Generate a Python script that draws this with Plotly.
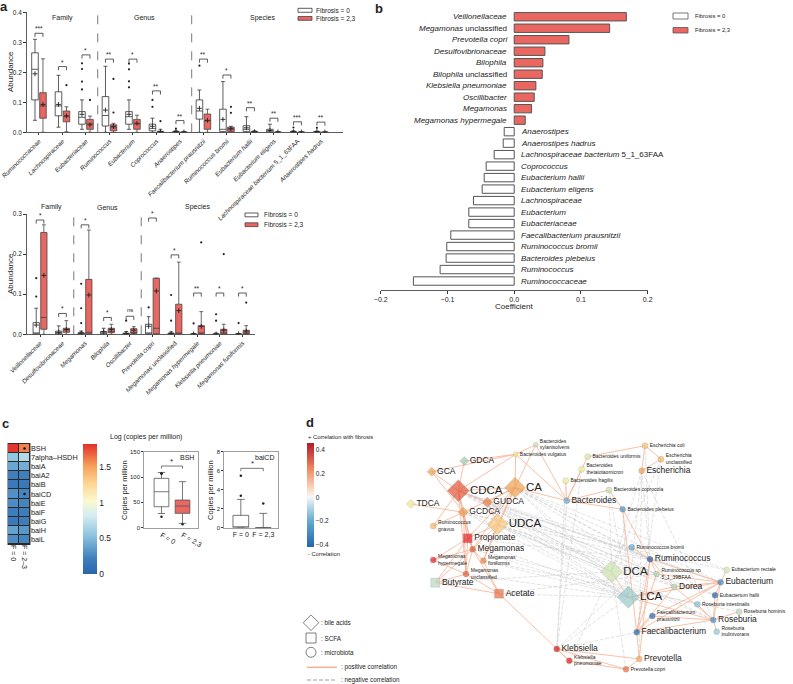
import plotly.graph_objects as go

W, H = 793, 684
FONT = "Arial, Liberation Sans, sans-serif"
INK = "#333333"
RED = "#ea6660"
DODGE = 0.17
BOXW = 0.28


def fx(p):
    return p / W


def fy(p):
    return 1 - p / H


def ital(name):
    parts = []
    for w in name.split(" "):
        if w == "unclassified" or any(ch.isdigit() for ch in w):
            parts.append(w)
        else:
            parts.append("<i>" + w + "</i>")
    return " ".join(parts)


# ================= Panel a (top) =================
a1_taxa = ["Ruminococcaceae", "Lachnospiraceae", "Eubacteriaceae", "Ruminococcus",
           "Eubacterium", "Coprococcus", "Anaerostipes", "Faecalibacterium prausnitzii",
           "Ruminococcus bromii", "Eubacterium hallii", "Eubacterium eligens",
           "Lachnospiraceae bacterium 5_1_63FAA", "Anaerostipes hadrus"]
a1_f0_low = [0.040, 0.017, 0.010, 0.000, 0.010, 0.000, 0.000, 0.000, 0.000, 0.000, 0.000, 0.000, 0.000]
a1_f0_q1 = [0.108, 0.055, 0.027, 0.021, 0.027, 0.005, 0.000, 0.044, 0.002, 0.002, 0.000, 0.000, 0.000]
a1_f0_med = [0.210, 0.088, 0.050, 0.056, 0.052, 0.013, 0.001, 0.071, 0.010, 0.010, 0.004, 0.001, 0.001]
a1_f0_q3 = [0.265, 0.135, 0.069, 0.119, 0.069, 0.027, 0.003, 0.108, 0.077, 0.022, 0.010, 0.002, 0.002]
a1_f0_high = [0.310, 0.190, 0.108, 0.220, 0.108, 0.047, 0.005, 0.141, 0.169, 0.052, 0.027, 0.005, 0.004]
a1_f0_mean = [0.195, 0.093, 0.060, 0.074, 0.060, 0.020, 0.002, 0.080, 0.043, 0.015, 0.006, 0.002, 0.002]
a1_f0_out = [[], [], [0.230, 0.211, 0.169, 0.143], [], [0.229, 0.210, 0.170, 0.150],
             [0.108, 0.085], [0.012], [0.222], [], [], [], [0.016], [0.015]]
a1_f23_low = [0.000, 0.002, 0.000, 0.000, 0.000, 0.000, 0.000, 0.000, 0.000, 0.000, 0.000, 0.000, 0.000]
a1_f23_q1 = [0.047, 0.035, 0.010, 0.005, 0.010, 0.000, 0.000, 0.010, 0.002, 0.000, 0.000, 0.000, 0.000]
a1_f23_med = [0.088, 0.052, 0.028, 0.015, 0.028, 0.001, 0.000, 0.038, 0.010, 0.001, 0.000, 0.000, 0.000]
a1_f23_q3 = [0.132, 0.071, 0.043, 0.025, 0.043, 0.003, 0.001, 0.061, 0.017, 0.003, 0.001, 0.001, 0.001]
a1_f23_high = [0.245, 0.085, 0.054, 0.030, 0.057, 0.010, 0.002, 0.077, 0.020, 0.005, 0.002, 0.001, 0.001]
a1_f23_mean = [0.093, 0.055, 0.025, 0.020, 0.030, 0.003, 0.001, 0.040, 0.012, 0.002, 0.001, 0.001, 0.001]
a1_f23_out = [[], [0.157], [0.108], [0.178, 0.066], [], [0.037], [], [], [0.085, 0.065], [], [], [], []]
a1_sig = ["***", "*", "*", "**", "*", "**", "**", "**", "*", "**", "**", "***", "**"]
a1_sig_y = [0.330, 0.219, 0.258, 0.244, 0.244, 0.138, 0.039, 0.244, 0.191, 0.082, 0.047, 0.035, 0.034]
a1_levels = [("Family", 0, 2), ("Genus", 3, 6), ("Species", 7, 12)]

# ================= Panel a (bottom) =================
a2_taxa = ["Veillonellaceae", "Desulfovibrionaceae", "Megamonas", "Bilophila", "Oscillibacter",
           "Prevotella copri", "Megamonas unclassified", "Megamonas hypermegale",
           "Klebsiella pneumoniae", "Megamonas funiformis"]
a2_f0_low = [0.000, 0.000, 0.000, 0.000, 0.000, 0.000, 0.000, 0.000, 0.000, 0.000]
a2_f0_q1 = [0.001, 0.001, 0.000, 0.001, 0.000, 0.001, 0.000, 0.000, 0.000, 0.000]
a2_f0_med = [0.0025, 0.003, 0.001, 0.003, 0.001, 0.003, 0.001, 0.000, 0.000, 0.000]
a2_f0_q3 = [0.029, 0.008, 0.004, 0.007, 0.003, 0.025, 0.003, 0.001, 0.001, 0.001]
a2_f0_high = [0.065, 0.021, 0.008, 0.015, 0.007, 0.044, 0.006, 0.002, 0.003, 0.002]
a2_f0_mean = [0.023, 0.005, 0.003, 0.006, 0.002, 0.020, 0.002, 0.001, 0.001, 0.001]
a2_f0_out = [[0.140, 0.094], [], [0.126, 0.065, 0.028], [], [0.034], [0.067], [0.098, 0.034],
             [0.027], [0.050, 0.034], [0.028]]
a2_f23_low = [0.000, 0.000, 0.000, 0.000, 0.000, 0.000, 0.000, 0.000, 0.000, 0.000]
a2_f23_q1 = [0.0125, 0.005, 0.001, 0.004, 0.002, 0.001, 0.001, 0.001, 0.001, 0.001]
a2_f23_med = [0.042, 0.011, 0.005, 0.007, 0.004, 0.015, 0.003, 0.002, 0.002, 0.002]
a2_f23_q3 = [0.254, 0.015, 0.137, 0.015, 0.014, 0.140, 0.075, 0.0215, 0.0125, 0.010]
a2_f23_high = [0.273, 0.034, 0.260, 0.025, 0.019, 0.140, 0.180, 0.0565, 0.025, 0.0215]
a2_f23_mean = [0.147, 0.012, 0.098, 0.012, 0.010, 0.108, 0.059, 0.020, 0.010, 0.008]
a2_f23_out = [[], [], [], [], [], [], [], [0.229], [0.200], [0.079]]
a2_sig = ["*", "*", "*", "*", "ns", "*", "*", "**", "*", "*"]
a2_sig_y = [0.285, 0.052, 0.273, 0.042, 0.045, 0.290, 0.198, 0.103, 0.103, 0.103]
a2_levels = [("Family", 0, 1), ("Genus", 2, 4), ("Species", 5, 9)]

# ================= Panel b =================
b_taxa = ["Veillonellaceae", "Megamonas unclassified", "Prevotella copri", "Desulfovibrionaceae",
          "Bilophila", "Bilophila unclassified", "Klebsiella pneumoniae", "Oscillibacter",
          "Megamonas", "Megamonas hypermegale", "Anaerostipes", "Anaerostipes hadrus",
          "Lachnospiraceae bacterium 5_1_63FAA", "Coprococcus", "Eubacterium hallii",
          "Eubacterium eligens", "Lachnospiraceae", "Eubacterium", "Eubacteriaceae",
          "Faecalibacterium prausnitzii", "Ruminococcus bromii", "Bacteroides plebeius",
          "Ruminococcus", "Ruminococcaceae"]
b_coef = [0.168, 0.143, 0.082, 0.046, 0.043, 0.042, 0.0325, 0.030, 0.026, 0.0165,
          -0.015, -0.0165, -0.030, -0.042, -0.045, -0.048, -0.061, -0.068, -0.068,
          -0.095, -0.101, -0.102, -0.111, -0.151]

# ================= Panel c =================
c_genes = ["BSH", "7alpha\u2013HSDH", "baiA", "baiA2", "baiB", "baiCD", "baiE", "baiF", "baiG", "baiH", "baiL"]
c_log_f0 = [1.80, 0.55, 0.40, 0.22, 0.18, 0.30, 0.28, 0.20, 0.18, 0.38, 0.28]
c_log_f23 = [1.60, 0.68, 0.44, 0.22, 0.18, 0.24, 0.24, 0.20, 0.20, 0.33, 0.24]
c_marked = ["BSH", "baiCD"]
c_groups = ["F = 0", "F = 2,3"]
bsh_low, bsh_q1, bsh_med, bsh_q3, bsh_high = [28, 8.6], [41.4, 28.3], [71, 42.8], [97.4, 54.6], [109, 90.8]
bsh_out = [[107, 107, 21.7], [6.6]]
bsh_sig_y = 121.7
baicd_low, baicd_q1, baicd_med, baicd_q3, baicd_high = [0, 0], [0, 0], [0, 0], [1.3, 0], [2.98, 1.51]
baicd_out = [[5.47, 3.37], [2.56]]
baicd_sig_y = 6.25

# ================= Panel d (network) =================
nodes = ["GDCA", "GCA", "CDCA", "CA", "TDCA", "GUDCA", "GCDCA", "UDCA", "Rgna", "Prop", "Mega",
         "Mhyp", "Mfun", "Munc", "Buty", "Acet", "Bxyl", "Bvul", "Ecoli", "Buni", "Eunc", "Bthe",
         "Esch", "Bfra", "Bcop", "Bact", "Bple", "Rbro", "Rumi", "DCA", "Rsp", "Erec", "Eubac",
         "Dorea", "LCA", "Ehal", "Rint", "Rhom", "Fpra", "Rose", "Rinu", "Faec", "Kleb", "Kpne",
         "Prev", "Pcop"]
node_label = ["GDCA", "GCA", "CDCA", "CA", "TDCA", "GUDCA", "GCDCA", "UDCA",
              "Ruminococcus<br>gnavus", "Propionate", "Megamonas", "Megamonas<br>hypermegale",
              "Megamonas<br>funiformis", "Megamonas<br>unclassified", "Butyrate", "Acetate",
              "Bacteroides<br>xylanisolvens", "Bacteroides vulgatus", "Escherichia coli",
              "Bacteroides uniformis", "Escherichia<br>unclassified", "Bacteroides<br>thetaiotaomicron",
              "Escherichia", "Bacteroides fragilis", "Bacteroides coprocola", "Bacteroides",
              "Bacteroides plebeius", "Ruminococcus bromii", "Ruminococcus", "DCA",
              "Ruminococcus sp<br>5_1_39BFAA", "Eubacterium rectale", "Eubacterium", "Dorea", "LCA",
              "Eubacterium hallii", "Roseburia intestinalis", "Roseburia hominis",
              "Faecalibacterium<br>prausnitzii", "Roseburia", "Roseburia<br>inulinivorans",
              "Faecalibacterium", "Klebsiella", "Klebsiella<br>pneumoniae", "Prevotella",
              "Prevotella copri"]
node_x = [464.3, 431.7, 458.3, 515.0, 411.0, 487.3, 463.3, 497.7, 433.3, 467.7, 472.7,
          433.3, 483.3, 466.0, 435.3, 499.0, 535.7, 515.7, 645.0, 587.7, 661.0, 581.7,
          641.7, 565.7, 609.0, 566.7, 622.7, 631.7, 650.0, 611.7, 656.7, 726.7, 720.7,
          674.3, 628.3, 715.0, 697.3, 739.0, 652.3, 713.3, 716.7, 636.7, 556.7, 569.3,
          639.3, 626.0]
node_y = [461.0, 471.7, 490.7, 487.7, 504.0, 502.3, 512.3, 524.3, 526.0, 538.3, 549.3,
          560.0, 560.7, 574.0, 582.7, 593.7, 444.7, 454.3, 445.7, 456.7, 459.3, 469.3,
          470.7, 480.7, 490.0, 500.7, 509.3, 547.3, 559.3, 571.7, 574.0, 570.0, 582.3,
          586.7, 597.3, 595.3, 604.3, 611.7, 616.0, 620.0, 631.7, 632.3, 649.0, 660.7,
          659.0, 669.3]
node_kind = ["bile", "bile", "bile", "bile", "bile", "bile", "bile", "bile", "mic", "scfa", "mic",
             "mic", "mic", "mic", "scfa", "scfa", "mic", "mic", "mic", "mic", "mic", "mic",
             "mic", "mic", "mic", "mic", "mic", "mic", "mic", "bile", "mic", "mic", "mic",
             "mic", "bile", "mic", "mic", "mic", "mic", "mic", "mic", "mic", "mic", "mic",
             "mic", "mic"]
node_size = [7, 7, 17, 16, 7, 8, 8, 16, 6, 9, 6, 6, 6, 6, 9, 9, 5, 5, 6, 6, 6, 6,
             6, 6, 6, 6, 6, 6, 6, 17, 6, 6, 6, 6, 17, 6, 6, 6, 6, 6, 6, 6, 6, 6, 6, 6]
node_color = ["#9ccbb0", "#f0a04e", "#e2543a", "#f0a052", "#f4e48c", "#ec7e4a", "#f09a55", "#f8c77c",
              "#f5b264", "#e0262c", "#e6573c", "#de1f2a", "#ef8548", "#e55d3c", "#b9d9c2", "#ec6c46",
              "#c3dfb4", "#f5e78a", "#f8bf6e", "#d9e9a6", "#f6b660", "#f1ea94", "#f2a14f", "#f2eb98",
              "#c7e0ae", "#64acd8", "#4b92c8", "#5ea6d6", "#1f5fa8", "#cde3b0", "#a9d1b3", "#d1e6b6",
              "#3b86c2", "#a9d6b7", "#97c9c9", "#2064ab", "#7bc2e0", "#b2d9c1", "#2a69b0", "#4b8dc6",
              "#8fc6d5", "#2267ad", "#d7191c", "#d7191c", "#f5a860", "#ec6a42"]
node_font = [8.5, 8.5, 11.5, 11.5, 8.5, 8.5, 8.5, 11.5, 5, 8.5, 8.5, 5, 5, 5, 8.5, 8.5, 5, 5, 5, 5,
             5, 5, 8.5, 5, 5, 8.5, 5, 5, 8.5, 11.5, 5, 5, 8.5, 8.5, 11.5, 5, 5, 5, 5, 8.5, 5, 8.5,
             8.5, 5, 8.5, 5]
pos_edges = [("CDCA", "GCA"), ("CDCA", "GCDCA"), ("CDCA", "GUDCA"), ("CDCA", "CA"), ("CDCA", "Prop"),
             ("CDCA", "Mega"), ("CDCA", "Rgna"), ("CDCA", "Bvul"), ("CDCA", "Munc"), ("CDCA", "GDCA"),
             ("CA", "GUDCA"), ("CA", "GCDCA"), ("CA", "UDCA"), ("CA", "Bvul"), ("CA", "Mega"),
             ("CA", "Mfun"), ("CA", "Bxyl"), ("CA", "Bact"), ("CA", "Prop"), ("GCA", "Bvul"),
             ("GCA", "GCDCA"), ("GCDCA", "Rgna"), ("GCDCA", "Prop"), ("GCDCA", "Mega"), ("GCDCA", "TDCA"),
             ("GCDCA", "Munc"), ("UDCA", "Mega"), ("UDCA", "Mfun"), ("UDCA", "Prop"), ("UDCA", "GUDCA"),
             ("Prop", "Mega"), ("Prop", "Mhyp"), ("Prop", "Munc"), ("Prop", "Buty"), ("Mega", "Munc"),
             ("Mega", "Mfun"), ("Mega", "Mhyp"), ("Mega", "Acet"), ("Mega", "Buty"), ("Mhyp", "Munc"),
             ("Buty", "Acet"), ("Buty", "Munc"), ("Acet", "Mfun"), ("Acet", "Munc"), ("Acet", "Kpne"),
             ("Kleb", "Kpne"), ("Kleb", "Prev"), ("Kpne", "Pcop"), ("Kleb", "Pcop"), ("Prev", "Pcop"),
             ("Faec", "Prev"), ("Rumi", "Prev"), ("Faec", "Fpra"), ("Faec", "Rumi"), ("Faec", "Rose"),
             ("Faec", "Eubac"), ("Faec", "Dorea"), ("Faec", "Rsp"), ("Faec", "Bple"), ("Fpra", "Rose"),
             ("Fpra", "Eubac"), ("Rumi", "Rbro"), ("Rumi", "Bple"), ("Rumi", "Eubac"), ("Rumi", "Rsp"),
             ("Rumi", "Dorea"), ("Eubac", "Ehal"), ("Eubac", "Erec"), ("Eubac", "Dorea"), ("Eubac", "Rose"),
             ("Eubac", "Rsp"), ("Eubac", "LCA"), ("Rose", "Rint"), ("Rose", "Rhom"), ("Rose", "Rinu"),
             ("Rose", "Ehal"), ("Rose", "Dorea"), ("Rose", "LCA"), ("DCA", "LCA"), ("LCA", "Dorea"),
             ("Bact", "Bfra"), ("Bact", "Bthe"), ("Bact", "Buni"), ("Bact", "Bple"), ("Bact", "Bcop"),
             ("Bact", "Bxyl"), ("Bact", "Bvul"), ("Esch", "Ecoli"), ("Esch", "Eunc"), ("Ecoli", "Eunc"),
             ("Ecoli", "Buni"), ("Bcop", "Bple"), ("Bvul", "Bxyl"), ("GDCA", "Bvul")]
neg_edges = [("CDCA", "DCA"), ("CDCA", "LCA"), ("CDCA", "Rumi"), ("CDCA", "Eubac"), ("CDCA", "Dorea"),
             ("CDCA", "Rose"), ("CDCA", "Rsp"), ("CA", "DCA"), ("CA", "LCA"), ("CA", "Rumi"),
             ("CA", "Eubac"), ("CA", "Erec"), ("CA", "Dorea"), ("CA", "Ehal"), ("GUDCA", "LCA"),
             ("GUDCA", "DCA"), ("GUDCA", "Eubac"), ("GUDCA", "Rsp"), ("GCDCA", "LCA"), ("GCDCA", "DCA"),
             ("GCDCA", "Rumi"), ("GCDCA", "Erec"), ("UDCA", "LCA"), ("UDCA", "DCA"), ("UDCA", "Dorea"),
             ("UDCA", "Rose"), ("UDCA", "Ehal"), ("Mega", "LCA"), ("Mega", "Rint"), ("Mfun", "LCA"),
             ("Mfun", "Rhom"), ("Prop", "LCA"), ("Prop", "Rumi"), ("Esch", "LCA"), ("Esch", "DCA"),
             ("Esch", "Rumi"), ("Ecoli", "Rumi"), ("Eunc", "DCA"), ("Esch", "Rose"), ("Eunc", "Faec"),
             ("Bcop", "LCA"), ("Bcop", "DCA"), ("Bact", "Kleb"), ("Bthe", "Kleb"), ("Bfra", "Kleb"),
             ("Kleb", "LCA"), ("Kleb", "Rumi"), ("Kpne", "DCA"), ("Kleb", "Faec"), ("Prev", "Esch"),
             ("Bple", "LCA"), ("Rbro", "CDCA"), ("Munc", "LCA"), ("Acet", "LCA"), ("Acet", "Rsp"),
             ("Buty", "DCA"), ("Pcop", "DCA")]

# ================= Build figure =================
fig = go.Figure()
shapes = []
annots = []


def txt(x, y, text, size=7, xref="paper", yref="paper", xanchor="center", yanchor="middle", **kw):
    d = dict(x=x, y=y, text=text, xref=xref, yref=yref, xanchor=xanchor, yanchor=yanchor,
             showarrow=False, font=dict(size=size, color="#222", family=FONT))
    d.update(kw)
    annots.append(d)


def box_panel(xa, ya, n, w, r, w_out, r_out, sig, sig_y, tick, levels, level_y):
    pos_w = [i - DODGE for i in range(n)]
    pos_r = [i + DODGE for i in range(n)]
    for pos, st, fill, lc in ((pos_w, w, "white", INK), (pos_r, r, RED, "#444")):
        fig.add_trace(go.Box(x=pos, lowerfence=st[0], q1=st[1], median=st[2], q3=st[3],
                             upperfence=st[4], fillcolor=fill, line=dict(color=lc, width=0.8),
                             width=BOXW, whiskerwidth=0.6, boxpoints=False, xaxis=xa, yaxis=ya,
                             hoverinfo="skip", showlegend=False))
        fig.add_trace(go.Scatter(x=pos, y=st[5], mode="markers", xaxis=xa, yaxis=ya,
                                 marker=dict(symbol="cross-thin", size=3.5, line=dict(width=0.9, color="#222")),
                                 hoverinfo="skip", showlegend=False))
    ox, oy = [], []
    for pos, outs in ((pos_w, w_out), (pos_r, r_out)):
        for i, lst in enumerate(outs):
            for v in lst:
                ox.append(pos[i])
                oy.append(v)
    fig.add_trace(go.Scatter(x=ox, y=oy, mode="markers", xaxis=xa, yaxis=ya,
                             marker=dict(size=2.2, color="#222"), hoverinfo="skip", showlegend=False))
    for i in range(n):
        x0, x1, h = i - DODGE, i + DODGE, sig_y[i]
        shapes.append(dict(type="path", xref=xa, yref=ya,
                           path=f"M {x0},{h - tick} L {x0},{h} L {x1},{h} L {x1},{h - tick}",
                           line=dict(color=INK, width=0.8)))
        txt(i, h, sig[i], size=6.5 if sig[i] != "ns" else 6, xref=xa, yref=ya, yanchor="bottom",
            yshift=-1 if sig[i] != "ns" else 1)
    for k, (name, lo, hi) in enumerate(levels):
        txt((lo + hi) / 2, level_y, name, size=7, xref=xa, yref=ya + " domain")
        if k > 0:
            shapes.append(dict(type="line", xref=xa, yref=ya + " domain", x0=lo - 0.5, x1=lo - 0.5,
                               y0=0, y1=1, line=dict(color="#555", width=0.8, dash="dash")))


box_panel("x", "y", len(a1_taxa),
          (a1_f0_low, a1_f0_q1, a1_f0_med, a1_f0_q3, a1_f0_high, a1_f0_mean),
          (a1_f23_low, a1_f23_q1, a1_f23_med, a1_f23_q3, a1_f23_high, a1_f23_mean),
          a1_f0_out, a1_f23_out, a1_sig, a1_sig_y, 0.012, a1_levels, 0.955)
box_panel("x2", "y2", len(a2_taxa),
          (a2_f0_low, a2_f0_q1, a2_f0_med, a2_f0_q3, a2_f0_high, a2_f0_mean),
          (a2_f23_low, a2_f23_q1, a2_f23_med, a2_f23_q3, a2_f23_high, a2_f23_mean),
          a2_f0_out, a2_f23_out, a2_sig, a2_sig_y, 0.009, a2_levels, 1.058)

# ---- panel b bars
fig.add_trace(go.Bar(x=b_coef, y=list(range(len(b_taxa))), orientation="h", xaxis="x3", yaxis="y3",
                     marker=dict(color=[RED if v > 0 else "white" for v in b_coef],
                                 line=dict(color="#555", width=1)),
                     hoverinfo="skip", showlegend=False))
for i, (name, v) in enumerate(zip(b_taxa, b_coef)):
    if v > 0:
        txt(0, i, ital(name), size=8, xref="x3", yref="y3", xanchor="right", xshift=-5)
    else:
        txt(0, i, ital(name), size=8, xref="x3", yref="y3", xanchor="left", xshift=5)

# ---- panel c heatmap
heat_scale = [[0.0, "#2b63ae"], [0.12, "#3f7fbd"], [0.3, "#8fc5df"], [0.45, "#d4edf2"],
              [0.56, "#fbf8d0"], [0.7, "#fdd491"], [0.83, "#f7a05a"], [1.0, "#e1302a"]]
fig.add_trace(go.Heatmap(z=[[a, b] for a, b in zip(c_log_f0, c_log_f23)], x=[0, 1],
                         y=list(range(len(c_genes))), xaxis="x4", yaxis="y4", zmin=0, zmax=1.82,
                         colorscale=heat_scale, xgap=1, ygap=1, hoverinfo="skip",
                         colorbar=dict(x=fx(83), xanchor="left", y=fy(444), yanchor="top",
                                       len=130, lenmode="pixels", thickness=14, thicknessmode="pixels",
                                       tickvals=[0, 0.5, 1, 1.5], ticktext=["0", "0.5", "1", "1.5"],
                                       ticks="", outlinewidth=0, xpad=0, ypad=0,
                                       tickfont=dict(size=8.5, color="#222", family=FONT))))
shapes.append(dict(type="rect", xref="x4 domain", yref="y4 domain", x0=-0.02, x1=1.02, y0=-0.01, y1=1.01,
                   fillcolor="#2a2a2a", line=dict(width=0), layer="below"))
fig.add_trace(go.Scatter(x=[1 for g in c_marked], y=[c_genes.index(g) for g in c_marked], mode="markers",
                         xaxis="x4", yaxis="y4", marker=dict(size=2.5, color="#111"),
                         hoverinfo="skip", showlegend=False))

# ---- panel c boxes
for xa, ya, st, outs, sy, tk in (("x5", "y5", (bsh_low, bsh_q1, bsh_med, bsh_q3, bsh_high), bsh_out,
                                  bsh_sig_y, 5),
                                 ("x6", "y6", (baicd_low, baicd_q1, baicd_med, baicd_q3, baicd_high),
                                  baicd_out, baicd_sig_y, 0.3)):
    for j, (fill, lc) in enumerate((("white", "#555"), (RED, "#555"))):
        fig.add_trace(go.Box(x=[j], lowerfence=[st[0][j]], q1=[st[1][j]], median=[st[2][j]],
                             q3=[st[3][j]], upperfence=[st[4][j]], fillcolor=fill,
                             line=dict(color=lc, width=0.8), width=0.7, whiskerwidth=0.5,
                             boxpoints=False, xaxis=xa, yaxis=ya, hoverinfo="skip", showlegend=False))
    ox = [j for j, lst in enumerate(outs) for v in lst]
    oy = [v for lst in outs for v in lst]
    fig.add_trace(go.Scatter(x=ox, y=oy, mode="markers", xaxis=xa, yaxis=ya,
                             marker=dict(size=2.5, color="#222"), hoverinfo="skip", showlegend=False))
    shapes.append(dict(type="path", xref=xa, yref=ya,
                       path=f"M 0,{sy - tk} L 0,{sy} L 1,{sy} L 1,{sy - tk}",
                       line=dict(color="#555", width=0.8)))
    txt(0.5, sy, "*", size=8, xref=xa, yref=ya, yanchor="bottom", yshift=-2)

# ---- panel d network
idx = {k: i for i, k in enumerate(nodes)}


def edge_xy(edges):
    xs, ys = [], []
    for a, b in edges:
        xs += [node_x[idx[a]], node_x[idx[b]], None]
        ys += [node_y[idx[a]], node_y[idx[b]], None]
    return xs, ys


ex, ey = edge_xy(neg_edges)
fig.add_trace(go.Scatter(x=ex, y=ey, mode="lines", xaxis="x7", yaxis="y7",
                         line=dict(color="#c4c4c4", width=0.5, dash="4px,1.5px"),
                         hoverinfo="skip", showlegend=False))
ex, ey = edge_xy(pos_edges)
fig.add_trace(go.Scatter(x=ex, y=ey, mode="lines", xaxis="x7", yaxis="y7",
                         line=dict(color="#f6b192", width=0.8), hoverinfo="skip", showlegend=False))
symbol_of = {"bile": "diamond", "scfa": "square", "mic": "circle"}
fig.add_trace(go.Scatter(x=node_x, y=node_y, mode="markers+text", xaxis="x7", yaxis="y7",
                         text=node_label, textposition="middle right",
                         textfont=dict(size=node_font, color="#222", family=FONT),
                         marker=dict(symbol=[symbol_of[k] for k in node_kind], size=node_size,
                                     color=node_color, line=dict(color="rgba(90,90,90,0.45)", width=0.5)),
                         hoverinfo="skip", showlegend=False))
corr_scale = [[0.0, "#2166ac"], [0.25, "#67a9cf"], [0.43, "#d1e5f0"], [0.48, "#f7f7f7"],
              [0.55, "#fddbc7"], [0.75, "#ef8a62"], [1.0, "#b2182b"]]
fig.add_trace(go.Scatter(x=[node_x[0]], y=[node_y[0]], mode="markers", xaxis="x7", yaxis="y7",
                         marker=dict(size=0.1, color=[0], cmin=-0.42, cmax=0.46, colorscale=corr_scale,
                                     showscale=True,
                                     colorbar=dict(x=fx(307), xanchor="left", y=fy(443), yanchor="top",
                                                   len=104, lenmode="pixels", thickness=7,
                                                   thicknessmode="pixels", outlinewidth=0, xpad=0, ypad=0,
                                                   tickvals=[-0.4, -0.2, 0, 0.2, 0.4],
                                                   ticktext=["\u22120.4", "\u22120.2", "0", "0.2", "0.4"],
                                                   ticks="", tickfont=dict(size=6.5, color="#222", family=FONT))),
                         hoverinfo="skip", showlegend=False))
# network legend glyphs
legend_sym = ["diamond-open", "square-open", "circle-open"]
legend_txt = [": bile acids", ": SCFA", ": microbiota"]
fig.add_trace(go.Scatter(x=[311, 311, 311], y=[622.7, 638, 652.3], mode="markers", xaxis="x7", yaxis="y7",
                         marker=dict(symbol=legend_sym, size=[12, 10, 10], color="#333",
                                     line=dict(width=0.9, color="#333")),
                         hoverinfo="skip", showlegend=False))
for yy, t in zip([622.7, 638, 652.3], legend_txt):
    txt(319, yy, t, size=6.3, xref="x7", yref="y7", xanchor="left")
shapes.append(dict(type="line", xref="x7", yref="y7", x0=307, x1=337, y0=667.3, y1=667.3,
                   line=dict(color="#f6b192", width=1.5)))
shapes.append(dict(type="line", xref="x7", yref="y7", x0=307, x1=337, y0=680, y1=680,
                   line=dict(color="#bdbdbd", width=1.5, dash="4px,2px")))
txt(339, 667.3, ": positive correlation", size=6.3, xref="x7", yref="y7", xanchor="left")
txt(339, 680, ": negative correlation", size=6.3, xref="x7", yref="y7", xanchor="left")
txt(fx(306), fy(437), "+ Correlation with fibrosis", size=5.8, xanchor="left")
txt(fx(306), fy(554), "- Correlation", size=5.8, xanchor="left")

# ---- panel a legends / labels
for (x0, x1, ya0, ya1, yb0, yb1, tx) in ((298, 312, 8.3, 12.3, 16.5, 20.3, 314),
                                        (245, 258, 213, 216.8, 222.8, 226.6, 261.5)):
    shapes.append(dict(type="rect", xref="paper", yref="paper", x0=fx(x0), x1=fx(x1), y0=fy(ya1), y1=fy(ya0),
                       fillcolor="white", line=dict(color=INK, width=0.8)))
    shapes.append(dict(type="rect", xref="paper", yref="paper", x0=fx(x0), x1=fx(x1), y0=fy(yb1), y1=fy(yb0),
                       fillcolor=RED, line=dict(color="#444", width=0.8)))
    txt(fx(tx), fy((ya0 + ya1) / 2), "Fibrosis = 0", size=6.5, xanchor="left")
    txt(fx(tx), fy((yb0 + yb1) / 2), "Fibrosis = 2,3", size=6.5, xanchor="left")
# panel b legend
shapes.append(dict(type="rect", xref="paper", yref="paper", x0=fx(673), x1=fx(688), y0=fy(19), y1=fy(13),
                   fillcolor="white", line=dict(color="#555", width=0.8)))
shapes.append(dict(type="rect", xref="paper", yref="paper", x0=fx(673), x1=fx(688), y0=fy(33), y1=fy(27.5),
                   fillcolor=RED, line=dict(color="#555", width=0.8)))
txt(fx(693), fy(16), "Fibrosis = 0", size=5.8, xanchor="left")
txt(fx(693), fy(30.3), "Fibrosis = 2,3", size=5.8, xanchor="left")

txt(fx(10), fy(72), "Abundance", size=8, textangle=-90)
txt(fx(10), fy(274), "Abundance", size=8, textangle=-90)
txt(fx(514.3), fy(306), "Coefficient", size=8)
txt(fx(124), fy(490), "Copies per million", size=7.5, textangle=-90)
txt(fx(210), fy(490), "Copies per million", size=7.5, textangle=-90)
txt(fx(196), fy(457), "BSH", size=7, xanchor="right")
txt(fx(276), fy(457), "baiCD", size=7, xanchor="right")
txt(fx(108), fy(437), "Log (copies per million)", size=7, xanchor="left")
for lab, x, y in (("a", 4, 7), ("b", 379, 8), ("c", 5, 423), ("d", 310, 422)):
    txt(fx(x), fy(y), "<b>" + lab + "</b>", size=13)

base = dict(showgrid=False, zeroline=False, automargin=False, linewidth=0.8, tickcolor=INK)


def tf(s):
    return dict(size=s, color="#222", family=FONT)


fig.update_layout(
    width=W, height=H, margin=dict(l=0, r=0, t=0, b=0), paper_bgcolor="white", plot_bgcolor="white",
    font=dict(family=FONT, color="#222"), showlegend=False, barmode="overlay", bargap=0.27,
    xaxis=dict(domain=[fx(27), fx(343)], range=[-0.51, 12.94], anchor="y", showline=True, ticks="outside",
               ticklen=2, tickvals=list(range(len(a1_taxa))), ticktext=[ital(t) for t in a1_taxa],
               tickangle=-45, linecolor=INK, tickfont=tf(6.3), **base),
    yaxis=dict(domain=[fy(132.3), fy(12.3)], range=[0, 0.4], anchor="x", showline=True, ticks="outside",
               ticklen=3, tickvals=[0, 0.1, 0.2, 0.3, 0.4], tickformat=".1f", linecolor=INK,
               tickfont=tf(6.5), **base),
    xaxis2=dict(domain=[fx(27), fx(255)], range=[-0.58, 9.56], anchor="y2", showline=True, ticks="outside",
                ticklen=2, tickvals=list(range(len(a2_taxa))), ticktext=[ital(t) for t in a2_taxa],
                tickangle=-45, linecolor=INK, tickfont=tf(6.3), **base),
    yaxis2=dict(domain=[fy(334.3), fy(214)], range=[0, 0.3], anchor="x2", showline=True, ticks="outside",
                ticklen=3, tickvals=[0, 0.1, 0.2, 0.3], tickformat=".1f", linecolor=INK,
                tickfont=tf(6.5), **base),
    xaxis3=dict(domain=[fx(380.7), fx(647.7)], range=[-0.2, 0.2], anchor="y3", showline=True,
                ticks="outside", ticklen=3, tickvals=[-0.2, -0.1, 0, 0.1, 0.2], tickformat=".1f",
                linecolor=INK, tickfont=tf(7), **base),
    yaxis3=dict(domain=[fy(290), fy(11)], range=[23.78, -0.5], anchor="x3", visible=False),
    xaxis4=dict(domain=[fx(8), fx(30)], range=[-0.5, 1.5], anchor="y4", tickvals=[0, 1],
                ticktext=["F = 0", "F = 2\u20133"], tickangle=90, ticks="", showline=False,
                tickfont=tf(7), **base),
    yaxis4=dict(domain=[fy(544), fy(444)], range=[10.5, -0.5], anchor="x4", side="right",
                tickvals=list(range(len(c_genes))), ticktext=c_genes, ticks="", showline=False,
                tickfont=tf(7.3), **base),
    xaxis5=dict(domain=[fx(144), fx(198.3)], range=[-0.83, 1.75], anchor="y5", showline=True, mirror=True,
                tickvals=[0, 1], ticktext=c_groups, ticks="", linecolor="#888", tickfont=tf(7), **base),
    yaxis5=dict(domain=[fy(527.7), fy(451.7)], range=[0, 150], anchor="x5", showline=True, mirror=True,
                ticks="outside", ticklen=2, tickvals=[0, 50, 100, 150], linecolor="#888",
                tickfont=tf(6), **base),
    xaxis6=dict(domain=[fx(224), fx(278.3)], range=[-0.75, 1.67], anchor="y6", showline=True, mirror=True,
                tickvals=[0, 1], ticktext=c_groups, ticks="", linecolor="#888", tickfont=tf(7), **base),
    yaxis6=dict(domain=[fy(527.7), fy(451.7)], range=[0, 8], anchor="x6", showline=True, mirror=True,
                ticks="outside", ticklen=2, tickvals=[0, 2, 4, 6, 8], linecolor="#888",
                tickfont=tf(6), **base),
    xaxis7=dict(domain=[fx(300), 1], range=[300, 793], anchor="y7", visible=False),
    yaxis7=dict(domain=[0, fy(430)], range=[684, 430], anchor="x7", visible=False),
    shapes=shapes, annotations=annots,
)

fig.write_html("out.html", config={"displayModeBar": False, "staticPlot": True},
               post_script="document.body.style.margin='0px';document.body.style.overflow='hidden';")
